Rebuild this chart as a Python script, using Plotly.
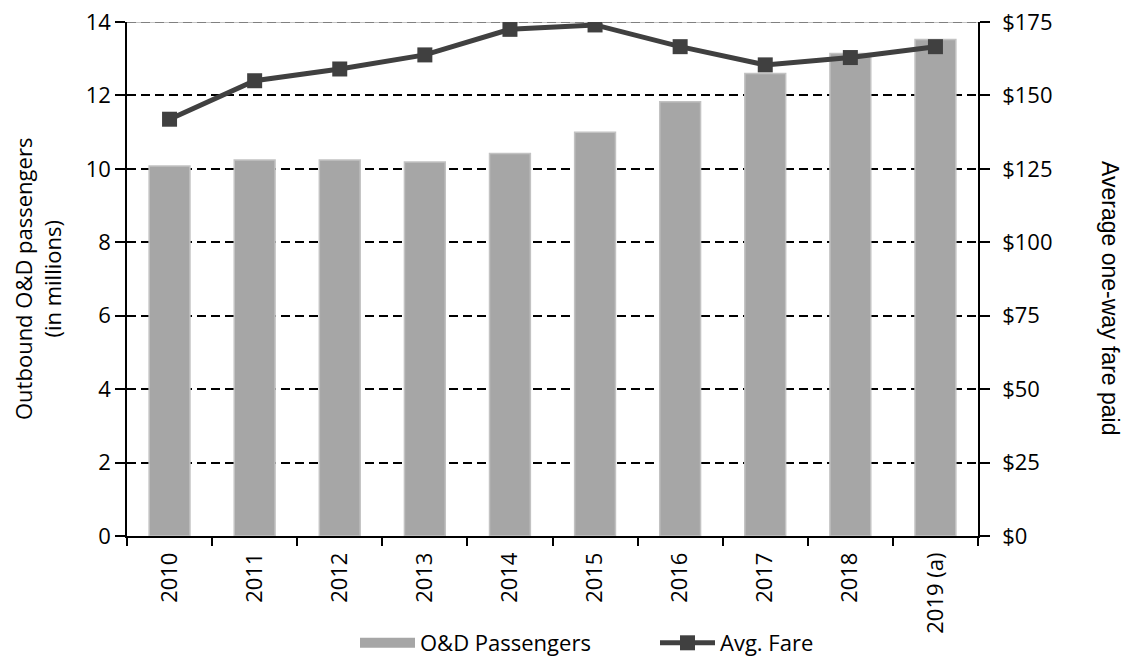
import plotly.graph_objects as go

years = ["2010", "2011", "2012", "2013", "2014", "2015", "2016", "2017", "2018", "2019 (a)"]
passengers = [10.08, 10.24, 10.24, 10.19, 10.42, 11.0, 11.83, 12.6, 13.14, 13.52]
avg_fare = [141.9, 155.0, 159.0, 163.8, 172.5, 174.0, 166.6, 160.4, 162.9, 166.6]

left_ticks = [0, 2, 4, 6, 8, 10, 12, 14]
right_ticks = [0, 25, 50, 75, 100, 125, 150, 175]
right_labels = ["$0", "$25", "$50", "$75", "$100", "$125", "$150", "$175"]

FONT = "Open Sans"
FS = 22
BAR_COLOR = "#a6a6a6"
LINE_COLOR = "#404040"

# page body margin is removed (post_script below), so figure pixels = window pixels
PL, PR, PT, PB = 127, 978, 22, 536  # plot area in pixels
W, H = 1125, 658
PW, PH = PR - PL, PB - PT


def px_x(x):
    return (x - PL) / PW


def px_y(y):
    return (PB - y) / PH


fig = go.Figure()
fig.add_trace(go.Bar(
    x=years, y=passengers, name="O&D Passengers", showlegend=False,
    marker=dict(color=BAR_COLOR, line=dict(color="#c2c2c2", width=1.5)),
    width=0.48, yaxis="y",
))
# legend swatch for the bars (wide grey rectangle like the original)
fig.add_trace(go.Scatter(
    x=[None], y=[None], name="O&D Passengers", mode="lines",
    line=dict(color=BAR_COLOR, width=15), showlegend=True, yaxis="y",
))
fig.add_trace(go.Scatter(
    x=years, y=avg_fare, name="Avg. Fare", mode="lines+markers",
    line=dict(color=LINE_COLOR, width=5),
    marker=dict(symbol="square", size=15, color=LINE_COLOR),
    yaxis="y2",
))

fig.update_layout(
    width=W, height=H,
    margin=dict(l=PL, r=W - PR, t=PT, b=H - PB, autoexpand=False),
    paper_bgcolor="white", plot_bgcolor="white",
    font=dict(family=FONT, size=FS, color="#000000"),
    showlegend=True,
    legend=dict(orientation="h", x=px_x(355), xanchor="left",
                y=px_y(643), yanchor="middle",
                font=dict(size=FS), itemwidth=55, traceorder="normal",
                entrywidth=230, entrywidthmode="pixels",
                bgcolor="rgba(0,0,0,0)"),
    xaxis=dict(
        type="category", range=[-0.5, len(years) - 0.5], autorange=False,
        tickson="boundaries", ticks="outside", ticklen=8,
        tickcolor="black", tickwidth=1.5, tickangle=-90, showline=True,
        linecolor="black", linewidth=1.5, showgrid=False, tickfont=dict(size=FS),
        ticklabelstandoff=6,
    ),
    yaxis=dict(
        range=[0, 14], tickvals=left_ticks, ticks="outside", ticklen=10,
        tickcolor="black", tickwidth=1.5, showline=True, linecolor="black",
        linewidth=1.5, showgrid=True, gridcolor="black", griddash="9px,5px",
        gridwidth=2, zeroline=False, tickfont=dict(size=FS),
        ticklabeloverflow="allow",
    ),
    yaxis2=dict(
        range=[0, 175], tickvals=right_ticks, ticktext=right_labels,
        overlaying="y", side="right", ticks="outside", ticklen=10,
        tickcolor="black", tickwidth=1.5, showline=True, linecolor="black",
        linewidth=1.5, showgrid=False, zeroline=False, tickfont=dict(size=FS),
        ticklabelstandoff=8, ticklabeloverflow="allow",
    ),
)

# top border line at 14 (grey, dashed on grey), between grid and traces
fig.add_shape(type="line", xref="paper", yref="y", x0=0, x1=1, y0=14, y1=14,
              line=dict(color="white", width=3), layer="between")
fig.add_shape(type="line", xref="paper", yref="y", x0=0, x1=1, y0=14, y1=14,
              line=dict(color="#b0b0b0", width=1.5), layer="between")
fig.add_shape(type="line", xref="paper", yref="y", x0=0, x1=1, y0=14, y1=14,
              line=dict(color="#808080", width=2, dash="9px,5px"), layer="between")

fig.add_annotation(text="Outbound O&D passengers<br>(in millions)", xref="paper", yref="paper",
                   x=px_x(37), y=0.5, showarrow=False, textangle=-90,
                   font=dict(size=FS, family=FONT), xanchor="center", yanchor="middle")

fig.add_annotation(text="Average one-way fare paid", xref="paper", yref="paper",
                   x=px_x(1110), y=px_y(298), showarrow=False, textangle=90,
                   font=dict(size=23, family="Liberation Sans"), xanchor="center", yanchor="middle")

fig.write_html("out.html",
               config={"displayModeBar": False},
               post_script="document.body.style.margin='0';document.body.style.padding='0';")
